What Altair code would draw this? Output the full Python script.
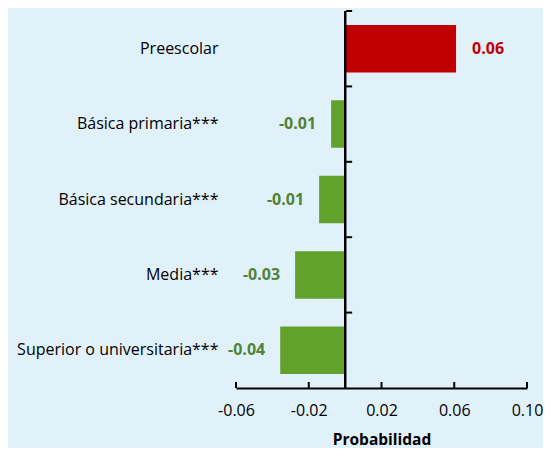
import altair as alt
import pandas as pd

categories = ["Preescolar", "Básica primaria***", "Básica secundaria***",
              "Media***", "Superior o universitaria***"]
values = [0.061, -0.0077, -0.0143, -0.0275, -0.0357]
x_ticks = [-0.06, -0.02, 0.02, 0.06, 0.10]

df = pd.DataFrame({"cat": categories, "value": values})
ticks_df = pd.DataFrame({"t": x_ticks})

FONT = "Open Sans"
RED = "#C00000"
GREEN = "#62A12B"
GREEN_TXT = "#538135"
BG = "#E1F1FA"

W, H = 291, 377

x_scale = alt.Scale(domain=[-0.06, 0.10], nice=False, zero=False)
y_scale = alt.Scale(domain=categories, paddingInner=0, paddingOuter=0)

x_axis = alt.Axis(values=x_ticks, format=".2f", title="Probabilidad")
y_axis = alt.Axis(title=None)

bars = alt.Chart(df).mark_bar(height={"band": 0.63}).encode(
    x=alt.X("value:Q", scale=x_scale, axis=x_axis),
    y=alt.Y("cat:N", sort=categories, scale=y_scale, axis=y_axis),
    color=alt.condition("datum.value > 0", alt.value(RED), alt.value(GREEN)),
)

pos_text = alt.Chart(df).transform_filter("datum.value > 0").mark_text(
    align="left", dx=16, fontWeight="bold", fontSize=16, color=RED
).encode(
    x=alt.X("value:Q", scale=x_scale, axis=x_axis),
    y=alt.Y("cat:N", sort=categories, scale=y_scale, axis=y_axis),
    text=alt.Text("value:Q", format=".2f"),
)

neg_text = alt.Chart(df).transform_filter("datum.value < 0").mark_text(
    align="right", dx=-15, fontWeight="bold", fontSize=16, color=GREEN_TXT
).encode(
    x=alt.X("value:Q", scale=x_scale, axis=x_axis),
    y=alt.Y("cat:N", sort=categories, scale=y_scale, axis=y_axis),
    text=alt.Text("value:Q", format=".2f"),
)

zero_line = alt.Chart(df).mark_rule(color="black", strokeWidth=2).encode(
    x=alt.XDatum(0, scale=x_scale, axis=x_axis),
)

band_ticks = alt.Chart(df).mark_tick(
    orient="horizontal", size=6, thickness=2, xOffset=4, color="black", opacity=1
).encode(
    x=alt.XDatum(0, scale=x_scale, axis=x_axis),
    y=alt.Y("cat:N", sort=categories, scale=y_scale, axis=y_axis, bandPosition=0),
)

x_axis_ticks = alt.Chart(ticks_df).mark_tick(
    orient="vertical", size=6, thickness=2, color="black", opacity=1
).encode(
    x=alt.X("t:Q", scale=x_scale, axis=x_axis),
    y=alt.value(H - 3),
)

chart = alt.layer(bars, pos_text, neg_text, zero_line, band_ticks, x_axis_ticks).properties(
    width=W,
    height=H,
    autosize=alt.AutoSizeParams(type="none"),
    padding={"left": 228, "top": 3, "right": 16, "bottom": 60},
).configure(
    background=BG, font=FONT,
    locale=alt.Locale(number=alt.NumberLocale(
        decimal=".", thousands=",", grouping=[3], currency=["$", ""], minus="-")),
).configure_view(
    stroke=None
).configure_axisX(
    ticks=False, grid=False, domainColor="black", domainWidth=2,
    labelFontSize=16, labelPadding=14, labelColor="black", labelFlush=False,
    labelOverlap=False,
    titleFontWeight="bold", titleFontSize=15.5, titlePadding=14, titleColor="black",
).configure_axisY(
    domain=False, ticks=False, grid=False, labelPadding=18, labelLimit=0,
    labelFontSize=16, labelColor="black",
)

chart.save("out.html", embed_options={"renderer": "svg", "actions": False})
